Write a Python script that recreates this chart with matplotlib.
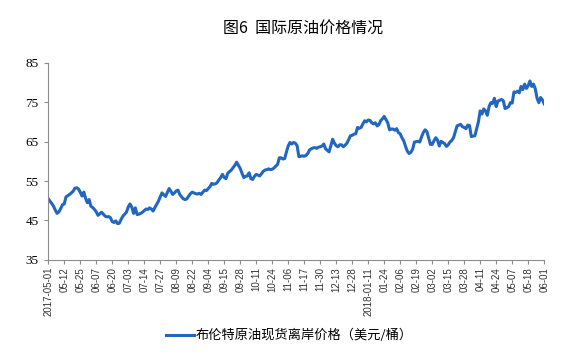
import matplotlib.pyplot as plt
import numpy as np

plt.rcParams['font.family'] = ['Noto Sans CJK SC', 'DejaVu Sans']
plt.rcParams['axes.unicode_minus'] = False

# 布伦特原油现货离岸价格 (美元/桶), 每个交易日
price = [
    50.5, 49.9, 49.3, 48.6, 47.6, 46.8, 47.2, 48.0, 49.0,
    49.2, 51.0, 51.3, 51.6, 52.0, 52.4, 53.2, 53.3, 53.0,
    52.2, 51.2, 52.2, 50.6, 49.5, 50.3, 48.6, 48.3, 47.8,
    47.2, 46.3, 46.7, 47.1, 46.6, 46.1, 45.9, 46.0, 45.7,
    44.7, 44.5, 44.9, 44.2, 44.3, 45.3, 46.1, 46.6, 47.1,
    48.4, 49.2, 48.4, 46.8, 48.2, 46.5, 46.6, 46.8, 47.1,
    47.5, 47.9, 47.8, 48.2, 47.9, 47.4, 48.3, 49.1, 49.9,
    51.0, 52.0, 51.5, 51.1, 52.1, 53.1, 52.4, 51.6, 52.0,
    52.5, 52.7, 51.6, 51.0, 50.5, 50.3, 50.5, 51.2, 51.8,
    52.2, 52.0, 51.8, 51.7, 51.9, 51.6, 52.2, 52.7, 52.6,
    53.1, 53.6, 54.4, 54.2, 54.3, 54.6, 55.3, 55.9, 56.7,
    55.9, 55.6, 57.0, 57.4, 57.8, 58.4, 59.0, 59.8, 59.0,
    58.2, 57.0, 55.9, 56.2, 56.3, 57.1, 55.6, 55.4, 56.2,
    56.7, 56.5, 56.3, 56.9, 57.5, 57.8, 57.9, 58.1, 57.9,
    58.0, 58.3, 58.8, 59.2, 60.9, 60.9, 60.6, 60.7, 62.4,
    63.9, 64.8, 64.4, 64.8, 64.6, 64.0, 61.2, 61.3, 61.4,
    61.3, 61.5, 62.0, 62.9, 63.2, 63.4, 63.5, 63.3, 63.6,
    63.7, 63.9, 64.4, 63.2, 62.8, 62.4, 64.0, 65.6, 64.6,
    64.0, 63.7, 64.2, 64.2, 63.7, 64.1, 64.6, 65.5, 66.5,
    66.6, 66.9, 67.0, 68.6, 68.4, 68.6, 69.5, 70.3, 70.0,
    70.5, 70.4, 69.8, 69.5, 69.8, 69.0, 69.3, 70.3, 70.8,
    71.4, 70.6, 69.8, 68.0, 68.2, 68.2, 67.9, 68.3, 67.3,
    67.0, 66.0, 65.2, 63.8, 62.6, 62.0, 62.3, 63.1, 64.9,
    65.0, 65.1, 64.9, 66.2, 67.3, 68.0, 67.6, 66.0, 64.3,
    64.3, 65.2, 66.0, 65.4, 63.9, 65.1, 64.8, 64.5, 63.8,
    64.2, 64.9, 65.3, 66.0, 67.5, 69.0, 69.2, 69.4, 68.8,
    68.6, 68.3, 69.2, 69.1, 66.3, 66.4, 66.5, 68.2, 70.0,
    72.8, 72.0, 73.3, 72.8, 71.7, 73.9, 74.9, 74.7, 76.0,
    73.9, 75.3, 75.5, 75.7, 75.4, 73.4, 73.6, 73.9, 74.9,
    74.8, 77.6, 77.5, 77.8, 77.4, 79.0, 78.2, 79.6, 78.5,
    79.2, 80.4, 79.0, 79.6, 78.4, 76.0, 74.9, 76.2, 75.6,
    74.6,
]

tick_labels = ['2017-05-01', '05-12', '05-25', '06-07', '06-20', '07-03', '07-14',
               '07-27', '08-09', '08-22', '09-04', '09-15', '09-28', '10-11',
               '10-24', '11-06', '11-17', '11-30', '12-13', '12-28', '2018-01-11',
               '01-24', '02-06', '02-19', '03-02', '03-15', '03-28', '04-11',
               '04-24', '05-07', '05-18', '06-01']
tick_step = 9

y_ticks = [35, 45, 55, 65, 75, 85]

fig = plt.figure(figsize=(5.61, 3.57), dpi=100)
ax = fig.add_axes([0.086, 0.272, 0.884, 0.552])

x = np.arange(len(price))
ax.plot(x, price, color='#2166c0', linewidth=2.2,
        label='布伦特原油现货离岸价格（美元/桶）')

ax.set_xlim(0, len(price) - 1)
ax.set_ylim(35, 85)
ax.set_yticks(y_ticks)
ax.set_yticklabels([str(v) for v in y_ticks], family='Liberation Serif', fontsize=9.5)
ax.set_xticks(np.arange(len(tick_labels)) * tick_step)
ax.set_xticklabels(tick_labels, rotation=90, fontsize=7, family='Liberation Sans',
                   color='#333333')

for s in ['top', 'right']:
    ax.spines[s].set_visible(False)
for s in ['left', 'bottom']:
    ax.spines[s].set_color('#8c8c8c')
    ax.spines[s].set_linewidth(0.8)
ax.tick_params(axis='both', color='#8c8c8c', length=3, width=0.8, pad=2)
ax.tick_params(axis='y', length=3, pad=4)

fig.text(0.540, 0.921, '图6  国际原油价格情况', ha='center', va='center',
         fontsize=11.5, fontweight='medium')

fig.legend(loc='center', bbox_to_anchor=(0.516, 0.060), frameon=False,
           fontsize=9.5, handlelength=2.1, handletextpad=0.15)

fig.savefig('out.png', dpi=100)
